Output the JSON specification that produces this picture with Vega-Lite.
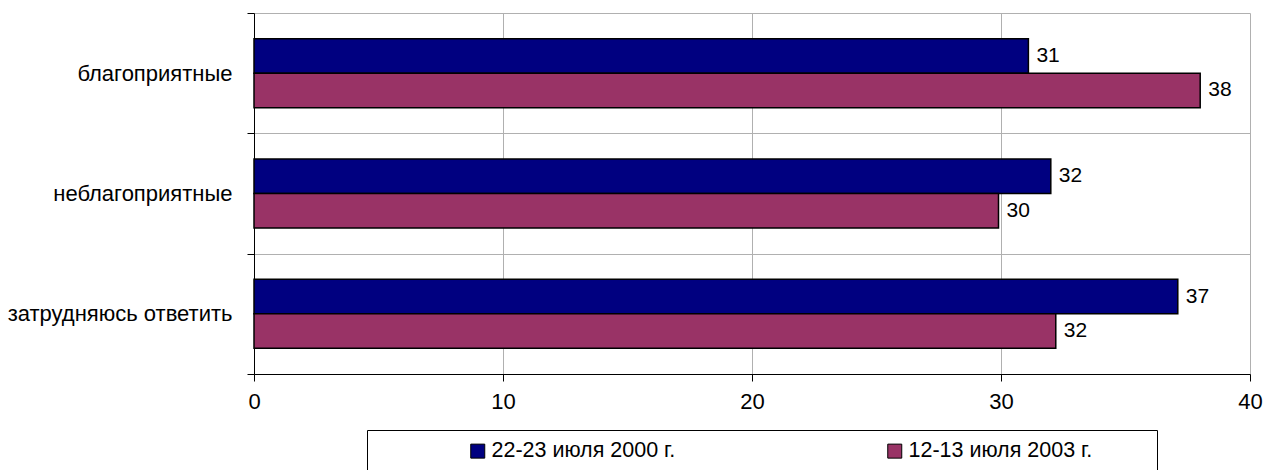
{
  "$schema": "https://vega.github.io/schema/vega-lite/v6.json",
  "width": 996,
  "height": 361,
  "autosize": {"type": "none"},
  "padding": {"left": 254, "top": 13, "right": 13, "bottom": 96},
  "background": "white",
  "config": {"view": {"stroke": null}, "font": "Liberation Sans"},
  "data": {
    "values": [
      {"category": "благоприятные", "series": "22-23 июля 2000 г.", "value": 31.1},
      {"category": "благоприятные", "series": "12-13 июля 2003 г.", "value": 38.0},
      {"category": "неблагоприятные", "series": "22-23 июля 2000 г.", "value": 32.0},
      {"category": "неблагоприятные", "series": "12-13 июля 2003 г.", "value": 29.9},
      {"category": "затрудняюсь ответить", "series": "22-23 июля 2000 г.", "value": 37.1},
      {"category": "затрудняюсь ответить", "series": "12-13 июля 2003 г.", "value": 32.2}
    ]
  },
  "encoding": {
    "y": {
      "field": "category",
      "type": "nominal",
      "sort": ["благоприятные", "неблагоприятные", "затрудняюсь ответить"],
      "scale": {"paddingInner": 0, "paddingOuter": 0},
      "axis": {
        "title": null,
        "tickBand": "extent",
        "grid": true,
        "gridColor": "#b0b0b0",
        "gridWidth": 1,
        "domainColor": "#000000",
        "tickColor": "#000000",
        "tickSize": 7,
        "labelPadding": 15,
        "labelFontSize": 22,
        "labelColor": "#000000",
        "labelLimit": 400
      }
    },
    "yOffset": {
      "field": "series",
      "type": "nominal",
      "sort": ["22-23 июля 2000 г.", "12-13 июля 2003 г."],
      "scale": {"paddingInner": 0, "paddingOuter": 0.743}
    },
    "x": {
      "field": "value",
      "type": "quantitative",
      "scale": {"domain": [0, 40], "nice": false},
      "axis": {
        "title": null,
        "values": [0, 10, 20, 30, 40],
        "grid": true,
        "gridColor": "#b0b0b0",
        "gridWidth": 1,
        "domainColor": "#000000",
        "tickColor": "#000000",
        "tickSize": 7,
        "labelPadding": 10,
        "labelFontSize": 22,
        "labelColor": "#000000",
        "labelFlush": false
      }
    }
  },
  "layer": [
    {
      "mark": {"type": "bar", "stroke": "#000000", "strokeWidth": 1.5},
      "encoding": {
        "color": {
          "field": "series",
          "type": "nominal",
          "sort": ["22-23 июля 2000 г.", "12-13 июля 2003 г."],
          "scale": {
            "domain": ["22-23 июля 2000 г.", "12-13 июля 2003 г."],
            "range": ["#000080", "#993366"]
          },
          "legend": {
            "orient": "none",
            "legendX": 113,
            "legendY": 417,
            "direction": "horizontal",
            "columns": 2,
            "title": "\u00a0",
            "titleOrient": "right",
            "titlePadding": 55,
            "titleFontSize": 21,
            "labelFontSize": 21.5,
            "labelColor": "#000000",
            "symbolOffset": 90,
            "labelOffset": 3,
            "labelLimit": 500,
            "symbolType": "square",
            "symbolSize": 196,
            "symbolStrokeColor": "#000000",
            "symbolStrokeWidth": 1,
            "columnPadding": 118,
            "padding": 10,
            "strokeColor": "#000000",
            "fillColor": "#ffffff"
          }
        }
      }
    },
    {
      "mark": {"type": "text", "align": "left", "baseline": "middle", "dx": 8, "fontSize": 21, "color": "#000000"},
      "encoding": {
        "text": {"field": "value", "type": "quantitative", "format": ".0f"}
      }
    }
  ]
}
